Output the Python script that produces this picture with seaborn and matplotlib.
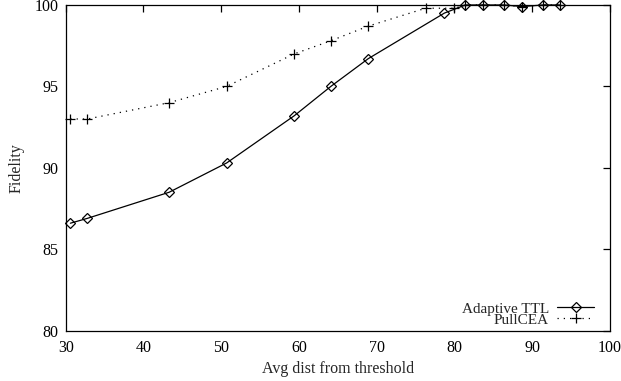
import matplotlib
matplotlib.use("Agg")
import matplotlib.pyplot as plt
import seaborn as sns
import pandas as pd

ttl_x = [30.6, 32.8, 43.3, 50.7, 59.4, 64.1, 68.9, 78.7, 81.4, 83.7, 86.4, 88.7, 91.4, 93.6]
ttl_y = [86.6, 86.9, 88.5, 90.3, 93.2, 95.0, 96.7, 99.5, 100.0, 100.0, 100.0, 99.9, 100.0, 100.0]
pull_x = [30.6, 32.8, 43.3, 50.7, 59.4, 64.1, 68.9, 76.3, 80.0, 81.4, 83.7, 86.4, 88.7, 91.4, 93.6]
pull_y = [93.0, 93.0, 94.0, 95.0, 97.0, 97.8, 98.7, 99.8, 99.8, 100.0, 100.0, 100.0, 99.9, 100.0, 100.0]
x_ticks = [30, 40, 50, 60, 70, 80, 90, 100]
y_ticks = [80, 85, 90, 95, 100]

sns.set_style("white")
plt.rcParams['font.family'] = ['Liberation Serif', 'DejaVu Serif']
FS = 11.5
plt.rcParams['font.size'] = FS

fig = plt.figure(figsize=(6.21, 3.81), dpi=100)
ax = fig.add_axes([0.1058, 0.132, 0.8765, 0.855])

sns.lineplot(x=ttl_x, y=ttl_y, ax=ax, color='black', linewidth=0.9,
             marker='D', markersize=5, markerfacecolor='none', markeredgecolor='black',
             markeredgewidth=0.9, label='Adaptive TTL', clip_on=False, sort=False)
sns.lineplot(x=pull_x, y=pull_y, ax=ax, color='black', linewidth=0.9,
             linestyle=(0, (1, 4)), marker='+', markersize=7, markeredgecolor='black',
             markeredgewidth=0.9, label='PullCEA', clip_on=False, sort=False)

ax.set_xlim(30, 100)
ax.set_ylim(80, 100)
ax.set_xticks(x_ticks)
ax.set_yticks(y_ticks)
ax.tick_params(direction='in', length=5, width=0.9, top=True, right=True,
               labelsize=FS, colors='black')
ax.tick_params(axis='x', pad=7)
ax.tick_params(axis='y', pad=5)
for s in ax.spines.values():
    s.set_color('black')
    s.set_linewidth(0.9)
ax.set_xlabel('Avg dist from threshold', fontsize=FS, labelpad=3)
ax.set_ylabel('Fidelity', fontsize=FS, labelpad=7)

leg = ax.legend(loc='lower right', bbox_to_anchor=(0.99, -0.02), frameon=False,
                markerfirst=False, handlelength=2.4, handletextpad=0.55,
                labelspacing=-0.18, fontsize=11, borderpad=0.2)

fig.savefig('out.png', dpi=100)
